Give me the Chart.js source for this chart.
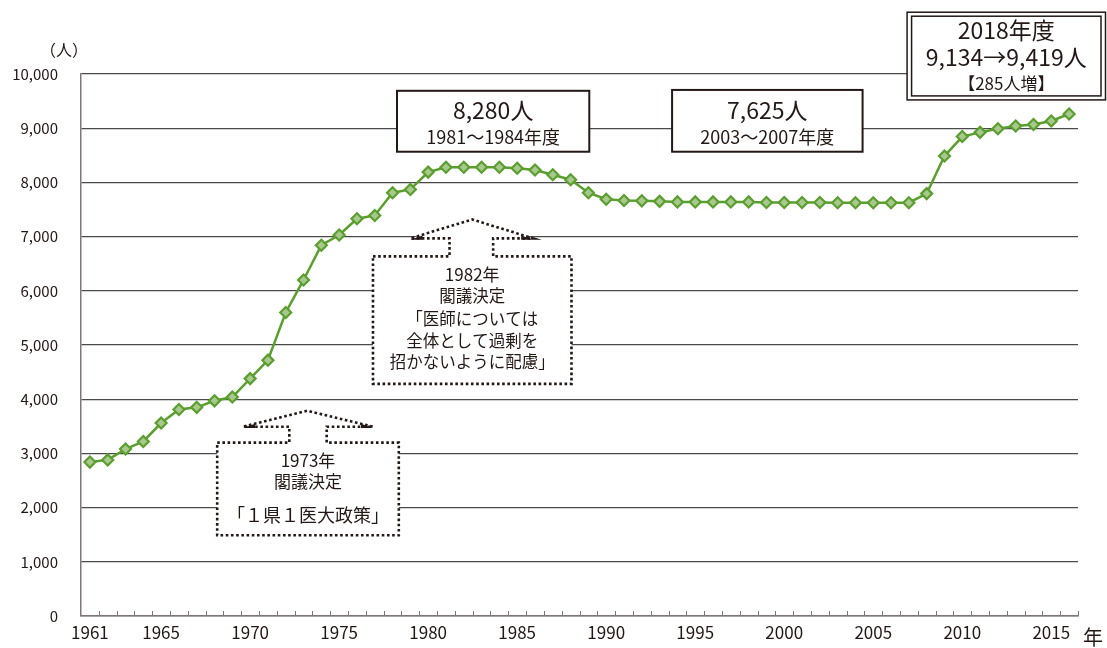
<!DOCTYPE html>
<html lang="ja">
<head>
<meta charset="utf-8">
<title>医学部入学定員の推移</title>
<script src="https://cdn.jsdelivr.net/npm/chart.js@4.4.1/dist/chart.umd.min.js"></script>
<style>
  html, body { margin: 0; padding: 0; background: #fff; }
  #wrap { width: 1107px; height: 648px; }
</style>
</head>
<body>
<div id="wrap"><canvas id="capacityChart" width="1107" height="648"></canvas></div>
<script>
// 医学部入学定員（年度別）
const years = [
  1961, 1962, 1963, 1964, 1965, 1966, 1967, 1968, 1969, 1970,
  1971, 1972, 1973, 1974, 1975, 1976, 1977, 1978, 1979, 1980,
  1981, 1982, 1983, 1984, 1985, 1986, 1987, 1988, 1989, 1990,
  1991, 1992, 1993, 1994, 1995, 1996, 1997, 1998, 1999, 2000,
  2001, 2002, 2003, 2004, 2005, 2006, 2007, 2008, 2009, 2010,
  2011, 2012, 2013, 2014, 2015, 2016
];
const capacity = [
  2840, 2880, 3080, 3220, 3560, 3810, 3850, 3970, 4040, 4380,
  4720, 5600, 6200, 6840, 7030, 7330, 7390, 7810, 7870, 8190,
  8280, 8280, 8280, 8280, 8260, 8230, 8140, 8050, 7810, 7690,
  7665, 7660, 7650, 7640, 7640, 7640, 7640, 7640, 7630, 7630,
  7630, 7630, 7625, 7625, 7625, 7625, 7625, 7793, 8486, 8846,
  8923, 8991, 9041, 9069, 9134, 9262
];
const labeledYears = [1961, 1965, 1970, 1975, 1980, 1985, 1990, 1995, 2000, 2005, 2010, 2015];
const yTicks = [0, 1000, 2000, 3000, 4000, 5000, 6000, 7000, 8000, 9000, 10000];

const INK = '#231815';
const GREEN = '#5a9f2e';
const GREEN_FILL = '#a8c88e';
const JP_FONT = "'Noto Sans CJK JP', 'Noto Sans', sans-serif";

// 注記ボックス（年・人数の座標で配置）
const solidBoxes = [
  { x0: 1978.25, x1: 1989.05, y0: 9690, y1: 8566,
    lines: [{ text: '8,280人', y: 9340, size: 23 }, { text: '1981～1984年度', y: 8842, size: 18 }] },
  { x0: 1993.7, x1: 2004.4, y0: 9706, y1: 8566,
    lines: [{ text: '7,625人', y: 9340, size: 23 }, { text: '2003～2007年度', y: 8842, size: 18 }] }
];
const framedBox = {
  x0: 2006.9, x1: 2018.1, y0: 11140, y1: 9522,
  lines: [
    { text: '2018年度', y: 10800, size: 23 },
    { text: '9,134→9,419人', y: 10310, size: 23 },
    { text: '【285人増】', y: 9830, size: 17 }
  ]
};
const arrowBoxes = [
  { x0: 1968.15, x1: 1978.35, y0: 3199, y1: 1489, peak: 1973.2, peakY: 3787, baseY: 3493,
    headL: 1969.6, headR: 1976.9, shaftL: 1972.2, shaftR: 1974.3,
    lines: [
      { text: '1973年', y: 2868, size: 17 },
      { text: '閣議決定', y: 2482, size: 17 },
      { text: '「１県１医大政策」', y: 1857, size: 18 }
    ] },
  { x0: 1976.9, x1: 1988.05, y0: 6636, y1: 4283, peak: 1982.47, peakY: 7316, baseY: 6967,
    headL: 1979.0, headR: 1985.9, shaftL: 1981.2, shaftR: 1983.65,
    lines: [
      { text: '1982年', y: 6305, size: 17 },
      { text: '閣議決定', y: 5901, size: 16.5 },
      { text: '「医師については', y: 5478, size: 16.5 },
      { text: '全体として過剰を', y: 5074, size: 16.5 },
      { text: '招かないように配慮」', y: 4688, size: 16.5 }
    ] }
];

const px = (chart, yr) => chart.scales.x.getPixelForValue(yr - years[0]);
const py = (chart, v) => chart.scales.y.getPixelForValue(v);

function drawLines(ctx, chart, cx, lines) {
  ctx.fillStyle = INK;
  ctx.textAlign = 'center';
  ctx.textBaseline = 'middle';
  lines.forEach(l => {
    ctx.font = `${l.size}px ${JP_FONT}`;
    ctx.fillText(l.text, cx, py(chart, l.y));
  });
}

const annotationPlugin = {
  id: 'annotations',
  afterDraw(chart) {
    const ctx = chart.ctx;
    const xs = chart.scales.x;

    // 年次の目盛り（軸から内側へ）
    ctx.save();
    ctx.strokeStyle = '#7f7777';
    ctx.lineWidth = 1;
    const step = (xs.right - xs.left) / years.length;
    for (let i = 1; i <= years.length; i++) {
      const x = Math.round(xs.left + i * step) + 0.5;
      ctx.beginPath();
      ctx.moveTo(x, xs.top);
      ctx.lineTo(x, xs.top - 5);
      ctx.stroke();
    }
    ctx.restore();

    // 実線の注記ボックス
    solidBoxes.forEach(b => {
      const x0 = px(chart, b.x0), x1 = px(chart, b.x1);
      const y0 = py(chart, b.y0), y1 = py(chart, b.y1);
      ctx.save();
      ctx.fillStyle = '#fff';
      ctx.fillRect(x0, y0, x1 - x0, y1 - y0);
      ctx.strokeStyle = INK;
      ctx.lineWidth = 2;
      ctx.strokeRect(x0, y0, x1 - x0, y1 - y0);
      drawLines(ctx, chart, (x0 + x1) / 2, b.lines);
      ctx.restore();
    });

    // 二重枠のボックス
    {
      const b = framedBox;
      const x0 = px(chart, b.x0), x1 = Math.min(px(chart, b.x1), chart.width - 1.5);
      const y0 = py(chart, b.y0), y1 = py(chart, b.y1);
      ctx.save();
      ctx.fillStyle = '#fff';
      ctx.fillRect(x0, y0, x1 - x0, y1 - y0);
      ctx.strokeStyle = INK;
      ctx.lineWidth = 1.5;
      ctx.strokeRect(x0, y0, x1 - x0, y1 - y0);
      ctx.strokeRect(x0 + 4.5, y0 + 4, x1 - x0 - 9, y1 - y0 - 8);
      drawLines(ctx, chart, (x0 + x1) / 2, b.lines);
      ctx.restore();
    }

    // 点線の矢印付きボックス
    arrowBoxes.forEach(b => {
      const x0 = px(chart, b.x0), x1 = px(chart, b.x1);
      const y0 = py(chart, b.y0), y1 = py(chart, b.y1);
      const sl = px(chart, b.shaftL), sr = px(chart, b.shaftR);
      const hl = px(chart, b.headL), hr = px(chart, b.headR);
      const tipX = px(chart, b.peak), tipY = py(chart, b.peakY), baseY = py(chart, b.baseY);
      ctx.save();
      ctx.beginPath();
      ctx.moveTo(x0, y0);
      ctx.lineTo(sl, y0);
      ctx.lineTo(sl, baseY);
      ctx.lineTo(hl, baseY);
      ctx.lineTo(tipX, tipY);
      ctx.lineTo(hr, baseY);
      ctx.lineTo(sr, baseY);
      ctx.lineTo(sr, y0);
      ctx.lineTo(x1, y0);
      ctx.lineTo(x1, y1);
      ctx.lineTo(x0, y1);
      ctx.closePath();
      ctx.fillStyle = '#fff';
      ctx.fill();
      ctx.setLineDash([2.6, 2.6]);
      ctx.lineWidth = 2.6;
      ctx.strokeStyle = INK;
      ctx.stroke();
      ctx.setLineDash([]);
      // 矢じりの両端
      ctx.fillStyle = INK;
      [[hl, tipX], [hr, tipX]].forEach(([cx, tx]) => {
        const dir = tx > cx ? 1 : -1;
        ctx.beginPath();
        ctx.moveTo(cx, baseY + 1.3);
        ctx.lineTo(cx + dir * 12, baseY + 1.3);
        ctx.lineTo(cx + dir * 12, baseY - 3);
        ctx.closePath();
        ctx.fill();
      });
      drawLines(ctx, chart, (x0 + x1) / 2, b.lines);
      ctx.restore();
    });

    // 単位ラベル
    ctx.save();
    ctx.fillStyle = INK;
    ctx.textBaseline = 'middle';
    ctx.textAlign = 'center';
    ctx.font = `16px ${JP_FONT}`;
    ctx.fillText('（人）', 64, 50);
    ctx.font = `20px ${JP_FONT}`;
    ctx.fillText('年', 1093, 637);
    ctx.restore();
  }
};

new Chart(document.getElementById('capacityChart'), {
  type: 'line',
  data: {
    labels: years,
    datasets: [{
      label: '医学部入学定員',
      data: capacity,
      borderColor: GREEN,
      borderWidth: 2.5,
      pointStyle: 'rectRot',
      pointRadius: 5.5,
      pointBorderWidth: 2.2,
      pointBackgroundColor: GREEN_FILL,
      pointBorderColor: GREEN,
      tension: 0,
      clip: false
    }]
  },
  options: {
    responsive: false,
    animation: false,
    devicePixelRatio: 1,
    layout: { padding: { top: 74, right: 29, left: 0, bottom: 0 } },
    plugins: {
      legend: { display: false },
      tooltip: { enabled: false }
    },
    scales: {
      x: {
        type: 'category',
        offset: true,
        grid: { display: false, drawTicks: false },
        border: { display: true, color: '#7f7777', width: 1.5 },
        ticks: {
          autoSkip: false,
          maxRotation: 0,
          padding: 6,
          color: INK,
          font: { family: JP_FONT, size: 17 },
          callback: function (value) {
            const yr = years[value];
            return labeledYears.includes(yr) ? String(yr) : '';
          }
        },
        afterFit: s => { s.height = 30; }
      },
      y: {
        min: 0,
        max: 10000,
        afterBuildTicks: s => { s.ticks = yTicks.map(v => ({ value: v })); },
        grid: { color: '#4a4a4a', lineWidth: 1.2, drawTicks: false },
        border: { display: true, color: '#7f7777', width: 1.5 },
        ticks: {
          padding: 23,
          color: INK,
          font: { family: JP_FONT, size: 15 },
          callback: v => v.toLocaleString('en-US')
        },
        afterFit: s => { s.width = 81; }
      }
    }
  },
  plugins: [annotationPlugin]
});
</script>
</body>
</html>
